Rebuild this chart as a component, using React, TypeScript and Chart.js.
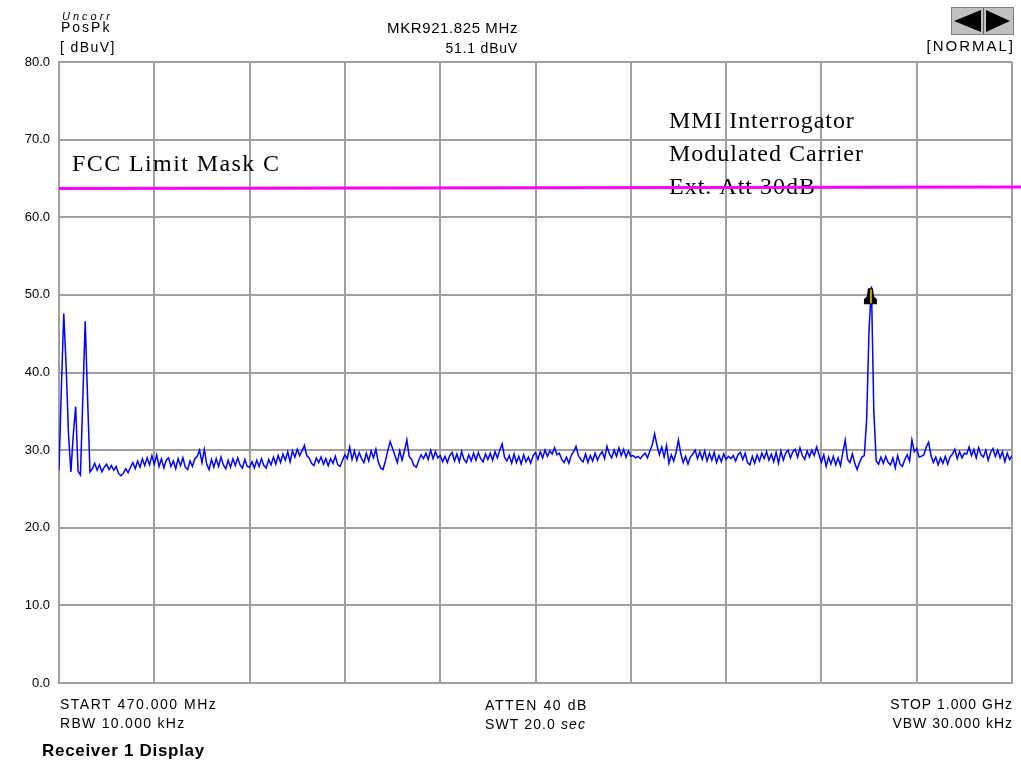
import React, { useEffect, useRef } from "react";
import { Chart, registerables } from "chart.js";

Chart.register(...registerables);

// ---- data ----
const startFreq = 470; // MHz
const stopFreq = 1000; // MHz
const traceLevels: number[] = [
  27.4, 38.0, 47.6, 40.8, 32.0, 27.2, 32.0, 35.6, 27.3, 26.8, 36.7, 46.6, 36.7, 27.2, 27.6, 28.3, 27.4, 28.1, 27.2, 27.8,
  28.2, 27.5, 28.0, 27.4, 27.9, 27.0, 26.7, 27.0, 27.6, 27.1, 27.8, 28.4, 27.6, 28.6, 27.8, 28.9, 28.0, 29.0, 28.1, 29.3,
  28.2, 29.4, 27.9, 28.9, 27.7, 28.7, 29.0, 27.9, 28.6, 27.6, 28.9, 28.0, 29.0, 27.8, 27.5, 28.6, 27.9, 28.9, 29.2, 30.0,
  28.4, 30.1, 28.2, 27.5, 28.8, 27.8, 28.9, 27.9, 29.1, 28.1, 27.6, 28.7, 27.8, 28.9, 28.0, 29.0, 28.1, 27.7, 28.8, 27.9,
  27.8, 28.5, 27.7, 28.7, 27.9, 28.9, 28.0, 27.7, 28.8, 28.1, 29.1, 28.2, 29.3, 28.4, 29.5, 28.7, 29.8, 28.5, 29.9, 29.1,
  30.1, 29.3, 29.9, 30.6, 29.3, 29.0, 28.3, 28.0, 29.0, 28.4, 29.1, 28.2, 28.9, 28.0, 28.9, 28.3, 29.2, 28.1, 27.9, 28.7,
  29.4, 28.9, 30.4, 28.8, 29.9, 28.7, 29.7, 28.9, 28.4, 29.6, 28.6, 29.9, 29.0, 30.1, 28.5, 27.7, 27.5, 28.6, 29.9, 31.1,
  30.2, 29.3, 28.4, 29.9, 28.7, 29.9, 31.3, 29.2, 28.8, 28.0, 27.8, 28.7, 29.4, 28.9, 29.6, 28.8, 30.0, 28.9, 29.8, 29.0,
  29.3, 28.5, 29.2, 28.4, 29.3, 29.7, 28.6, 29.5, 28.5, 29.8, 28.8, 28.4, 29.4, 28.6, 29.6, 28.7, 29.7, 28.9, 28.5, 29.5,
  28.8, 29.6, 28.7, 29.8, 29.0, 30.0, 30.8, 29.1, 28.6, 29.3, 28.3, 29.5, 28.4, 29.2, 28.2, 29.4, 28.5, 29.1, 28.3, 29.3,
  29.7, 28.8, 29.8, 29.0, 30.0, 29.2, 29.9, 29.5, 30.3, 29.4, 29.6, 28.8, 28.4, 29.1, 28.3, 29.3, 29.8, 30.5, 29.3, 28.8,
  28.5, 29.5, 28.4, 29.3, 28.6, 29.6, 28.7, 29.4, 29.8, 28.9, 30.5, 29.5, 29.0, 30.0, 29.2, 30.3, 29.3, 30.1, 29.1, 29.9,
  29.2, 29.3, 29.0, 29.2, 28.9, 29.3, 29.6, 29.0, 29.9, 30.7, 32.1, 30.6, 29.4, 30.4, 29.1, 30.6, 28.3, 29.4, 28.6, 29.7,
  31.3, 29.5, 28.4, 29.2, 28.2, 29.1, 29.5, 30.0, 28.9, 29.8, 28.8, 29.9, 28.6, 29.6, 28.7, 29.7, 28.4, 29.3, 28.5, 29.5,
  28.8, 29.2, 28.9, 29.3, 28.6, 29.4, 29.7, 28.8, 29.6, 28.4, 28.1, 29.2, 28.3, 29.4, 28.6, 29.6, 28.9, 29.8, 28.7, 29.5,
  28.5, 29.7, 28.3, 29.9, 28.7, 29.6, 30.0, 29.0, 29.8, 30.1, 29.1, 30.3, 29.3, 28.8, 29.9, 29.1, 30.0, 29.3, 30.4, 29.4,
  28.4, 29.4, 27.9, 29.1, 28.2, 29.2, 28.1, 29.0, 28.0, 29.7, 31.3, 28.8, 28.4, 29.5, 28.3, 27.5, 28.4, 29.1, 29.3, 34.0,
  45.5, 51.1, 35.0, 28.6, 28.2, 29.1, 28.3, 29.2, 28.4, 28.1, 29.0, 27.7, 29.3, 28.2, 27.9, 28.8, 29.4, 28.6, 31.3, 29.8,
  30.2, 29.1, 29.2, 29.4, 30.4, 31.0, 29.3, 28.4, 29.1, 28.1, 29.0, 28.3, 29.2, 28.2, 29.1, 29.5, 30.1, 28.9, 29.8, 29.0,
  29.6, 29.5, 30.4, 29.3, 30.1, 29.0, 30.3, 29.4, 29.1, 30.0, 28.7, 29.7, 30.2, 29.2, 30.0, 29.0, 29.8, 28.5, 29.6, 28.8,
  29.3,
];
const xGridFreqs = [470, 523, 576, 629, 682, 735, 788, 841, 894, 947, 1000];
const yTickValues = [0, 10, 20, 30, 40, 50, 60, 70, 80];
const limitFreqs = [470, 1008];
const limitLevels = [63.7, 63.9];
const markerFreq = 921.825;
const markerLevel = 51.1;

const headerLeft = ["Uncorr", "PosPk", "[ dBuV]"];
const headerMid = ["MKR921.825 MHz", "51.1 dBuV"];
const headerRight = "[NORMAL]";
const footerLeft = ["START 470.000 MHz", "RBW 10.000 kHz"];
const footerMid = ["ATTEN 40 dB", "SWT 20.0"];
const footerRight = ["STOP 1.000 GHz", "VBW 30.000 kHz"];
const limitLabel = "FCC Limit Mask C";
const noteLines = ["MMI Interrogator", "Modulated Carrier", "Ext. Att 30dB"];
const footerTitle = "Receiver 1 Display";

const SANS = "'Liberation Sans', Arial, sans-serif";
const SERIF = "'Liberation Serif', 'Times New Roman', serif";
const GRID = "#a0a0a0";

function txt(
  ctx: CanvasRenderingContext2D,
  s: string,
  x: number,
  y: number,
  font: string,
  align: CanvasTextAlign = "left",
  spacing = "0px"
) {
  ctx.font = font;
  ctx.textAlign = align;
  ctx.textBaseline = "alphabetic";
  (ctx as any).letterSpacing = spacing;
  ctx.fillStyle = "#000";
  ctx.fillText(s, x, y);
  (ctx as any).letterSpacing = "0px";
}

const decorPlugin = {
  id: "decor",
  beforeDatasetsDraw(chart: any) {
    const ctx: CanvasRenderingContext2D = chart.ctx;
    const area = chart.chartArea;
    ctx.save();
    // header left
    txt(ctx, headerLeft[0], 62, 20, `italic 11px ${SANS}`, "left", "3px");
    txt(ctx, headerLeft[1], 61, 32, `14px ${SANS}`, "left", "2px");
    txt(ctx, headerLeft[2], 60, 52, `14px ${SANS}`, "left", "1.4px");
    // header middle
    txt(ctx, headerMid[0], 518, 33, `15px ${SANS}`, "right", "0.6px");
    txt(ctx, headerMid[1], 518, 53, `14px ${SANS}`, "right", "0.8px");
    // header right
    txt(ctx, headerRight, 1015, 51, `15px ${SANS}`, "right", "2px");
    // arrow buttons
    ctx.fillStyle = "#c0c0c0";
    ctx.fillRect(952, 8, 61, 26);
    ctx.strokeStyle = "#808080";
    ctx.lineWidth = 1;
    ctx.strokeRect(951.5, 7.5, 62, 27);
    ctx.fillStyle = "#000";
    ctx.beginPath();
    ctx.moveTo(954, 21);
    ctx.lineTo(981, 10);
    ctx.lineTo(981, 32);
    ctx.closePath();
    ctx.fill();
    ctx.beginPath();
    ctx.moveTo(986, 10);
    ctx.lineTo(986, 32);
    ctx.lineTo(1010, 21);
    ctx.closePath();
    ctx.fill();
    ctx.fillStyle = "#606060";
    ctx.fillRect(983, 8, 1, 26);

    // footer
    txt(ctx, footerLeft[0], 60, 709, `14px ${SANS}`, "left", "1.5px");
    txt(ctx, footerLeft[1], 60, 728, `14px ${SANS}`, "left", "1.3px");
    const cx = (area.left + area.right) / 2;
    txt(ctx, footerMid[0], cx + 1, 710, `14px ${SANS}`, "center", "1.6px");
    ctx.font = `14px ${SANS}`;
    (ctx as any).letterSpacing = "1.1px";
    const w1 = ctx.measureText(footerMid[1] + " ").width;
    ctx.font = `italic 14px ${SANS}`;
    const w2 = ctx.measureText("sec").width;
    (ctx as any).letterSpacing = "0px";
    const sx = cx - (w1 + w2) / 2;
    txt(ctx, footerMid[1] + " ", sx, 729, `14px ${SANS}`, "left", "1.1px");
    txt(ctx, "sec", sx + w1, 729, `italic 14px ${SANS}`, "left", "1.1px");
    txt(ctx, footerRight[0], 1013, 709, `14px ${SANS}`, "right", "1px");
    txt(ctx, footerRight[1], 1013, 728, `14px ${SANS}`, "right", "1px");
    txt(ctx, footerTitle, 42, 756, `bold 17px ${SANS}`, "left", "0.7px");

    // annotations (serif)
    txt(ctx, limitLabel, 72, 171, `24px ${SERIF}`, "left", "1.4px");
    txt(ctx, noteLines[0], 669, 128, `24px ${SERIF}`, "left", "0.9px");
    txt(ctx, noteLines[1], 669, 161, `24px ${SERIF}`, "left", "1px");
    txt(ctx, noteLines[2], 669, 194, `24px ${SERIF}`, "left", "1px");
    ctx.restore();
  },
  afterDatasetsDraw(chart: any) {
    const ctx: CanvasRenderingContext2D = chart.ctx;
    const px = chart.scales.x.getPixelForValue(markerFreq) - 1;
    const py = chart.scales.y.getPixelForValue(markerLevel);
    ctx.save();
    ctx.fillStyle = "#000";
    ctx.beginPath();
    ctx.moveTo(px - 2.5, py + 2);
    ctx.lineTo(px + 2.5, py + 2);
    ctx.lineTo(px + 3.5, py + 10);
    ctx.lineTo(px + 6.5, py + 13);
    ctx.lineTo(px + 6.5, py + 18);
    ctx.lineTo(px - 6.5, py + 18);
    ctx.lineTo(px - 6.5, py + 13);
    ctx.lineTo(px - 3.5, py + 10);
    ctx.closePath();
    ctx.fill();
    ctx.strokeStyle = "#b8a800";
    ctx.lineWidth = 2;
    ctx.beginPath();
    ctx.moveTo(px + 0.5, py + 3);
    ctx.lineTo(px + 0.5, py + 17);
    ctx.stroke();
    ctx.restore();
  },
};

export default function App() {
  const ref = useRef<HTMLCanvasElement>(null);
  useEffect(() => {
    const step = (stopFreq - startFreq) / (traceLevels.length - 1);
    const traceData = traceLevels.map((v, i) => ({ x: startFreq + i * step, y: v }));
    const limitData = limitFreqs.map((f, i) => ({ x: f, y: limitLevels[i] }));
    const chart = new Chart(ref.current as HTMLCanvasElement, {
      type: "line",
      data: {
        datasets: [
          {
            data: limitData,
            borderColor: "#ff00ff",
            borderWidth: 3,
            pointRadius: 0,
            clip: false as any,
            tension: 0,
          },
          {
            data: traceData,
            borderColor: "#0000ff",
            borderWidth: 1.5,
            pointRadius: 0,
            tension: 0,
          },
        ],
      },
      options: {
        animation: false,
        responsive: false,
        events: [],
        layout: { padding: { left: 0, right: 9, top: 62, bottom: 80 } },
        plugins: { legend: { display: false }, tooltip: { enabled: false } },
        scales: {
          x: {
            type: "linear",
            min: startFreq,
            max: stopFreq,
            ticks: { display: false },
            grid: { color: GRID, lineWidth: 2, drawTicks: false },
            border: { color: GRID, width: 2 },
            afterBuildTicks: (s: any) => {
              s.ticks = xGridFreqs.map((v) => ({ value: v }));
            },
          },
          y: {
            type: "linear",
            min: 0,
            max: 80,
            afterBuildTicks: (s: any) => {
              s.ticks = yTickValues.map((v) => ({ value: v }));
            },
            ticks: {
              color: "#000",
              padding: 9,
              font: { family: SANS, size: 13 },
              callback: (v: any) => Number(v).toFixed(1),
            },
            grid: { color: GRID, lineWidth: 2, drawTicks: false },
            border: { color: GRID, width: 2 },
            afterFit: (s: any) => {
              s.width = 59;
            },
          },
        },
      },
      plugins: [decorPlugin],
    });
    return () => chart.destroy();
  }, []);
  return (
    <div style={{ position: "absolute", left: 0, top: 0, width: 1021, height: 763, background: "#fff" }}>
      <canvas ref={ref} width={1021} height={763} style={{ display: "block", width: 1021, height: 763 }} />
    </div>
  );
}
